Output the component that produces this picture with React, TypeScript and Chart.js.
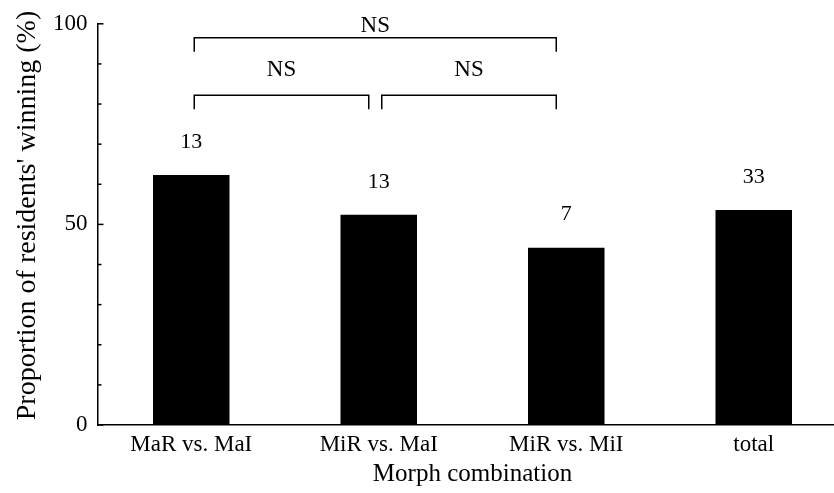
import React, { useEffect, useRef } from "react";
import { Chart, registerables } from "chart.js";

Chart.register(...registerables);

const categories = ["MaR vs. MaI", "MiR vs. MaI", "MiR vs. MiI", "total"];
const winningPercent = [62.3, 52.4, 44.2, 53.6];
const sampleSizes = ["13", "13", "7", "33"];
const labeledTicks = [0, 50, 100];
const comparisons: [number, number, string][] = [
  [0, 1, "NS"],
  [1, 2, "NS"],
  [0, 2, "NS"],
];
const yTitle = "Proportion of residents' winning (%)";
const xTitle = "Morph combination";

const FONT = "'Liberation Serif', 'Times New Roman', serif";

const overlayPlugin = {
  id: "overlay",
  afterDraw(chart: any) {
    const { ctx, chartArea } = chart;
    const xs = chart.scales.x;
    const ys = chart.scales.y;
    const meta = chart.getDatasetMeta(0);
    ctx.save();
    ctx.fillStyle = "#000";
    ctx.strokeStyle = "#000";
    ctx.lineWidth = 1.5;
    ctx.textAlign = "center";
    ctx.textBaseline = "middle";

    // sample sizes above bars
    ctx.font = `22px ${FONT}`;
    meta.data.forEach((bar: any, i: number) => {
      ctx.fillText(sampleSizes[i], bar.x, bar.y - 33);
    });

    // inward y tick marks
    const ax = chartArea.left;
    ys.ticks.forEach((t: any) => {
      const py = ys.getPixelForValue(t.value);
      const len = labeledTicks.includes(t.value) ? 6 : 4;
      ctx.beginPath();
      ctx.moveTo(ax, py);
      ctx.lineTo(ax + len, py);
      ctx.stroke();
    });

    // comparison brackets
    ctx.font = `23px ${FONT}`;
    comparisons.forEach(([a, b, label]) => {
      const span = b - a;
      const level = span > 1 ? 96.5 : 82.2;
      const py = ys.getPixelForValue(level);
      const x1 = xs.getPixelForValue(a) + 3;
      const x2 = xs.getPixelForValue(b) - 10;
      ctx.beginPath();
      ctx.moveTo(x1, py + 14);
      ctx.lineTo(x1, py);
      ctx.lineTo(x2, py);
      ctx.lineTo(x2, py + 14);
      ctx.stroke();
      ctx.fillText(label, (x1 + x2) / 2, py - (span > 1 ? 12 : 25));
    });

    // y axis title
    ctx.font = `28px ${FONT}`;
    ctx.translate(28, 215.5);
    ctx.rotate(-Math.PI / 2);
    ctx.fillText(yTitle, 0, 0);
    ctx.restore();
  },
};

export default function App() {
  const ref = useRef<HTMLCanvasElement | null>(null);

  useEffect(() => {
    document.body.style.margin = "0";
    const canvas = ref.current;
    if (!canvas) return;
    const chart = new Chart(canvas, {
      type: "bar",
      data: {
        labels: categories,
        datasets: [
          {
            data: winningPercent,
            backgroundColor: "#000",
            borderWidth: 0,
            barPercentage: 0.408,
            categoryPercentage: 1,
          },
        ],
      },
      options: {
        animation: false,
        responsive: false,
        devicePixelRatio: 1,
        layout: { padding: { top: 21, right: 12.5, left: 0, bottom: 0 } },
        plugins: {
          legend: { display: false },
          tooltip: { enabled: false },
        },
        scales: {
          x: {
            grid: { display: false, drawTicks: false },
            border: { display: true, color: "#000", width: 1.5 },
            ticks: {
              color: "#000",
              font: { family: FONT, size: 23 },
              padding: 6,
              maxRotation: 0,
            },
            title: {
              display: true,
              text: xTitle,
              color: "#000",
              font: { family: FONT, size: 25 },
              padding: { top: 0, bottom: 4 },
            },
            afterFit: (s: any) => {
              s.height = 68;
            },
          },
          y: {
            min: 0,
            max: 100,
            grid: { display: false, drawTicks: false },
            border: { display: true, color: "#000", width: 1.5 },
            ticks: {
              stepSize: 10,
              color: "#000",
              font: { family: FONT, size: 23 },
              padding: 10,
              callback: (v: any) => (labeledTicks.includes(Number(v)) ? String(v) : ""),
            },
            afterFit: (s: any) => {
              s.width = 97.5;
            },
          },
        },
      },
      plugins: [overlayPlugin],
    });
    return () => chart.destroy();
  }, []);

  return (
    <div style={{ width: 834, height: 493, overflow: "hidden", position: "relative" }}>
      <canvas ref={ref} width={860} height={493} style={{ display: "block" }} />
    </div>
  );
}
